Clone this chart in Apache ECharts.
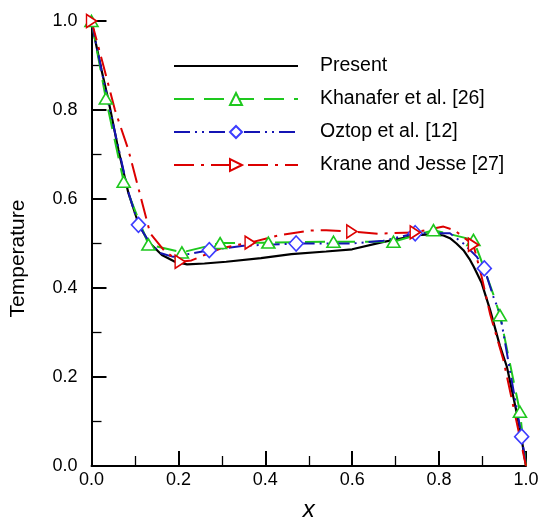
<!DOCTYPE html>
<html><head><meta charset="utf-8">
<script src="https://cdn.jsdelivr.net/npm/echarts@6/dist/echarts.min.js"></script>
<style>html,body{margin:0;padding:0;background:#fff}#c{width:539px;height:522px}</style>
</head><body><div id="c"></div>
<script>
const seriesNames = ['Present', 'Khanafer et al. [26]', 'Oztop et al. [12]', 'Krane and Jesse [27]'];
const xTicks = [0, 0.2, 0.4, 0.6, 0.8, 1.0];
const yTicks = [0, 0.2, 0.4, 0.6, 0.8, 1.0];

const presentData = [[0,1.0],[0.01,0.95],[0.023,0.89],[0.039,0.822],[0.062,0.71],[0.085,0.613],[0.108,0.545],[0.131,0.504],[0.162,0.474],[0.192,0.459],[0.22,0.453],[0.26,0.455],[0.31,0.459],[0.39,0.467],[0.46,0.476],[0.54,0.482],[0.6,0.487],[0.67,0.503],[0.72,0.513],[0.75,0.519],[0.787,0.521],[0.81,0.518],[0.825,0.512],[0.84,0.5],[0.856,0.485],[0.87,0.465],[0.88,0.447],[0.898,0.411],[0.917,0.352],[0.94,0.27],[0.956,0.223],[0.979,0.118],[0.99,0.06],[1.0,0.0]];

const khanaferData = [[0,1.0],[0.033,0.826],[0.074,0.639],[0.131,0.498],[0.208,0.48],[0.296,0.501],[0.407,0.502],[0.557,0.504],[0.695,0.504],[0.787,0.53],[0.879,0.508],[0.894,0.47],[0.925,0.385],[0.94,0.339],[0.986,0.122],[1.0,0.0]];
const khanaferMarks = [1,1,1,1,1,1,1,1,1,1,1,0,0,1,1,0];

const oztopData = [[0,1.0],[0.023,0.89],[0.04,0.81],[0.062,0.715],[0.085,0.615],[0.108,0.542],[0.135,0.5],[0.16,0.478],[0.188,0.47],[0.271,0.485],[0.35,0.495],[0.471,0.5],[0.6,0.5],[0.672,0.506],[0.745,0.523],[0.825,0.523],[0.856,0.5],[0.887,0.47],[0.904,0.444],[0.925,0.38],[0.94,0.343],[0.971,0.171],[0.99,0.066],[1.0,0.0]];
const oztopMarks = [0,0,0,0,0,1,0,0,0,1,0,1,0,0,1,0,0,0,1,0,0,0,1,0];

const kraneData = [[0,1.0],[0.027,0.901],[0.054,0.8],[0.085,0.71],[0.115,0.598],[0.135,0.523],[0.169,0.482],[0.204,0.459],[0.23,0.462],[0.3,0.49],[0.365,0.502],[0.43,0.518],[0.5,0.529],[0.54,0.53],[0.599,0.527],[0.66,0.522],[0.745,0.525],[0.81,0.538],[0.835,0.53],[0.879,0.497],[0.898,0.425],[0.917,0.343],[0.948,0.238],[0.971,0.133],[1.0,0.0]];
const kraneMarks = [1,0,0,0,0,0,0,1,0,0,1,0,0,0,1,0,1,0,0,1,0,0,0,0,0];

const FONT = "'Liberation Sans', Arial, Helvetica, sans-serif";

function withMarks(data, marks) {
  return data.map((p, i) => marks[i] ? { value: p } : { value: p, symbol: 'none' });
}

const chart = echarts.init(document.getElementById('c'), null, { renderer: 'canvas' });

function axisBase() {
  return {
    type: 'value', min: 0, max: 1, interval: 0.2,
    axisLine: { show: true, onZero: false, lineStyle: { color: '#000', width: 2 } },
    axisTick: { show: true, inside: true, length: 15, lineStyle: { color: '#000', width: 2 } },
    minorTick: { show: true, splitNumber: 2, length: 10, lineStyle: { color: '#000', width: 1.3 } },
    splitLine: { show: false },
    axisLabel: { color: '#000', fontSize: 18, fontFamily: FONT, formatter: v => v.toFixed(1), showMinLabel: true, showMaxLabel: true }
  };
}

const xAxis = axisBase();
xAxis.axisLabel.margin = 5;
xAxis.name = 'x';
xAxis.nameLocation = 'middle';
xAxis.nameGap = 32;
xAxis.nameTextStyle = { color: '#000', fontSize: 24, fontStyle: 'italic', fontFamily: FONT };

const yAxis = axisBase();
yAxis.axisLabel.margin = 14;
yAxis.name = 'Temperature';
yAxis.nameLocation = 'middle';
yAxis.nameRotate = 90;
yAxis.nameGap = 63;
yAxis.nameTextStyle = { color: '#000', fontSize: 21, fontFamily: FONT, padding: [0, 30, 0, 0] };

const option = {
  animation: false,
  backgroundColor: '#fff',
  grid: { left: 91.5, right: 13, top: 21, bottom: 56, containLabel: false, outerBoundsMode: 'none' },
  xAxis: xAxis,
  yAxis: yAxis,
  legend: {
    orient: 'vertical', left: 173, top: 56, padding: 0,
    itemWidth: 124, itemHeight: 15, itemGap: 13,
    textStyle: { color: '#000', fontSize: 19.5, fontFamily: FONT, lineHeight: 20, padding: [0, 0, 0, 17] },
    data: [
      { name: seriesNames[0], itemStyle: { opacity: 0 } },
      seriesNames[1], seriesNames[2], seriesNames[3]
    ]
  },
  series: [
    {
      name: seriesNames[0], type: 'line', data: presentData, symbol: 'none', clip: false,
      lineStyle: { color: '#000', width: 2.2 }, itemStyle: { color: '#000' }
    },
    {
      name: seriesNames[1], type: 'line', data: withMarks(khanaferData, khanaferMarks), clip: false,
      symbol: 'triangle', symbolSize: [13, 11], showSymbol: true,
      lineStyle: { color: '#1ec81e', width: 2, type: [20, 10] },
      itemStyle: { color: '#fff', borderColor: '#1ec81e', borderWidth: 1.6 }
    },
    {
      name: seriesNames[2], type: 'line', data: withMarks(oztopData, oztopMarks), clip: false,
      symbol: 'diamond', symbolSize: [14, 15], showSymbol: true,
      lineStyle: { color: '#1414b4', width: 2, type: [16, 5, 2, 5, 2, 5] },
      itemStyle: { color: '#fff', borderColor: '#3c3cff', borderWidth: 1.6 }
    },
    {
      name: seriesNames[3], type: 'line', data: withMarks(kraneData, kraneMarks), clip: false,
      symbol: 'triangle', symbolSize: [13, 10], symbolRotate: -90, showSymbol: true,
      lineStyle: { color: '#dc0000', width: 2, type: [20, 7, 3, 7] },
      itemStyle: { color: '#fff', borderColor: '#dc0000', borderWidth: 1.6 }
    }
  ]
};
chart.setOption(option);
</script>
</body></html>
